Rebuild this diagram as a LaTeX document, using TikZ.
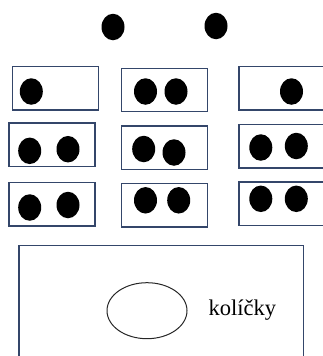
\documentclass[tikz,border=0pt]{standalone}
\usepackage{fontspec}
\setmainfont{Liberation Serif}
\usetikzlibrary{shapes.geometric}
\definecolor{TrayBlue}{RGB}{52,70,106}
\tikzset{
	dot/.style={ellipse,fill=black,draw=none,minimum width=23pt,minimum height=26.5pt,inner sep=0pt},
	tray/.style={draw=TrayBlue,line width=1.3pt,minimum width=86pt,minimum height=43.5pt,inner sep=0pt},
	hole/.style={ellipse,draw=black!85,line width=1pt,minimum width=80pt,minimum height=56pt,inner sep=0pt},
}

\begin{document}
\begin{tikzpicture}[x=1pt,y=-1pt]
	\clip (0,0) rectangle (323,356);
	% two loose dots on top
	\node[dot] (t1) at (113,27) {};
	\node[dot] (t2) at (216,26) {};
	% the nine trays
	\foreach \n/\x/\y in {a1/55.3/88.3,a2/164.5/90,a3/282/88.3,
		b1/52/144.7,b2/164.5/147.8,b3/282/146.2,
		c1/52/204.2,c2/164.5/205.3,c3/282/203.8}
	\node[tray] (\n) at (\x,\y) {};
	% dots in the trays
	\foreach \n/\x/\y in {a1d/31.3/91.5,a2d/145.5/91.5,a2e/176/91.5,a3d/291.5/91.5,
		b1d/29.7/150.8,b1e/68/149.2,b2d/143.7/149,b2e/174/152.5,b3d/260.8/147.5,b3e/296.3/146,
		c1d/29.7/207.5,c1e/68/205,c2d/145.5/200.3,c2e/178.7/200.3,c3d/260.8/198.8,c3e/296.3/198.8}
	\node[dot] (\n) at (\x,\y) {};
	% big box with the hole
	\draw[TrayBlue,line width=1.3pt] (19,380) |- (303.3,245.7) coordinate (bb) -- (303.3,380);
	\node[hole] (hl) at (147,310.7) {};
	\node[font=\fontsize{22.5}{26}\selectfont,anchor=west] (lbl) at (205,310) {kolíčky};
\end{tikzpicture}
\end{document}
